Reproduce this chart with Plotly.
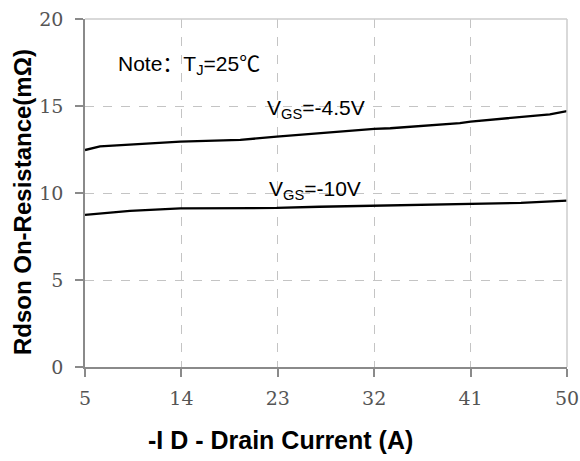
import plotly.graph_objects as go

# Drain current (A) and on-resistance (mOhm) for each gate drive
id_45 = [5, 6.4, 13.9, 19.5, 22.9, 27.9, 32, 33.5, 40, 41, 48.4, 50]
rds_45 = [12.47, 12.68, 12.95, 13.05, 13.24, 13.49, 13.68, 13.72, 14.01, 14.10, 14.52, 14.71]

id_10 = [5, 9.2, 13.9, 22.9, 26.9, 32, 41, 45.7, 50]
rds_10 = [8.74, 8.97, 9.12, 9.14, 9.21, 9.27, 9.37, 9.43, 9.56]

x_ticks = [5, 14, 23, 32, 41, 50]
y_ticks = [0, 5, 10, 15, 20]

fig = go.Figure()
for xs, ys in [(id_45, rds_45), (id_10, rds_10)]:
    fig.add_trace(go.Scatter(x=xs, y=ys, mode="lines",
                             line=dict(color="black", width=2.3),
                             showlegend=False, hoverinfo="skip"))

tick_font = dict(family="DejaVu Serif, Liberation Serif, serif", size=19, color="#555555")
note_font = dict(family="Liberation Sans, Arial, Noto Sans CJK SC, sans-serif", size=21, color="black")
title_family = "Liberation Sans, Arial, sans-serif"

fig.update_xaxes(range=[5, 50], tickvals=x_ticks, ticktext=[str(v) for v in x_ticks],
                 showgrid=True, gridcolor="#c4c4c4", griddash="dash", gridwidth=1.3,
                 showline=True, linecolor="#8a8a8a", linewidth=1.5,
                 ticks="outside", ticklen=8, tickcolor="#8a8a8a", tickwidth=1.5,
                 tickfont=tick_font, zeroline=False, automargin=False, ticklabelstandoff=5)
fig.update_yaxes(range=[0, 20], tickvals=y_ticks, ticktext=[str(v) for v in y_ticks],
                 showgrid=True, gridcolor="#c4c4c4", griddash="dash", gridwidth=1.3,
                 showline=True, linecolor="#8a8a8a", linewidth=1.5,
                 ticks="outside", ticklen=8, tickcolor="#8a8a8a", tickwidth=1.5,
                 tickfont=tick_font, zeroline=False, automargin=False, ticklabelstandoff=8)

# axis titles
fig.add_annotation(xref="paper", yref="paper", x=-0.1307, y=0.474, textangle=-90,
                   xanchor="center", yanchor="middle", showarrow=False,
                   text="<b>Rdson On-Resistance(mΩ)</b>",
                   font=dict(family=title_family, size=24, color="black"))
fig.add_annotation(xref="paper", yref="paper", x=0.4046, y=-0.21,
                   xanchor="center", yanchor="middle", showarrow=False,
                   text="<b>-I D - Drain Current (A)</b>",
                   font=dict(family=title_family, size=25, color="black"))

# light frame on the top and right sides
fig.add_shape(type="line", xref="paper", yref="paper", x0=0, x1=1, y0=1, y1=1,
              line=dict(color="#cccccc", width=1.5))
fig.add_shape(type="line", xref="paper", yref="paper", x0=1, x1=1, y0=0, y1=1,
              line=dict(color="#cccccc", width=1.5))

fig.add_annotation(x=7.9, y=17.35, xanchor="left", yanchor="middle", showarrow=False,
                   text="Note：T<sub>J</sub>=25℃", font=note_font)
fig.add_annotation(x=21.8, y=14.85, xanchor="left", yanchor="middle", showarrow=False,
                   text="V<sub>GS</sub>=-4.5V", font=note_font)
fig.add_annotation(x=22.0, y=10.2, xanchor="left", yanchor="middle", showarrow=False,
                   text="V<sub>GS</sub>=-10V", font=note_font)

fig.update_layout(width=580, height=461, margin=dict(l=85, r=13, t=19, b=94),
                  plot_bgcolor="white", paper_bgcolor="white")

fig.write_html("out.html")
